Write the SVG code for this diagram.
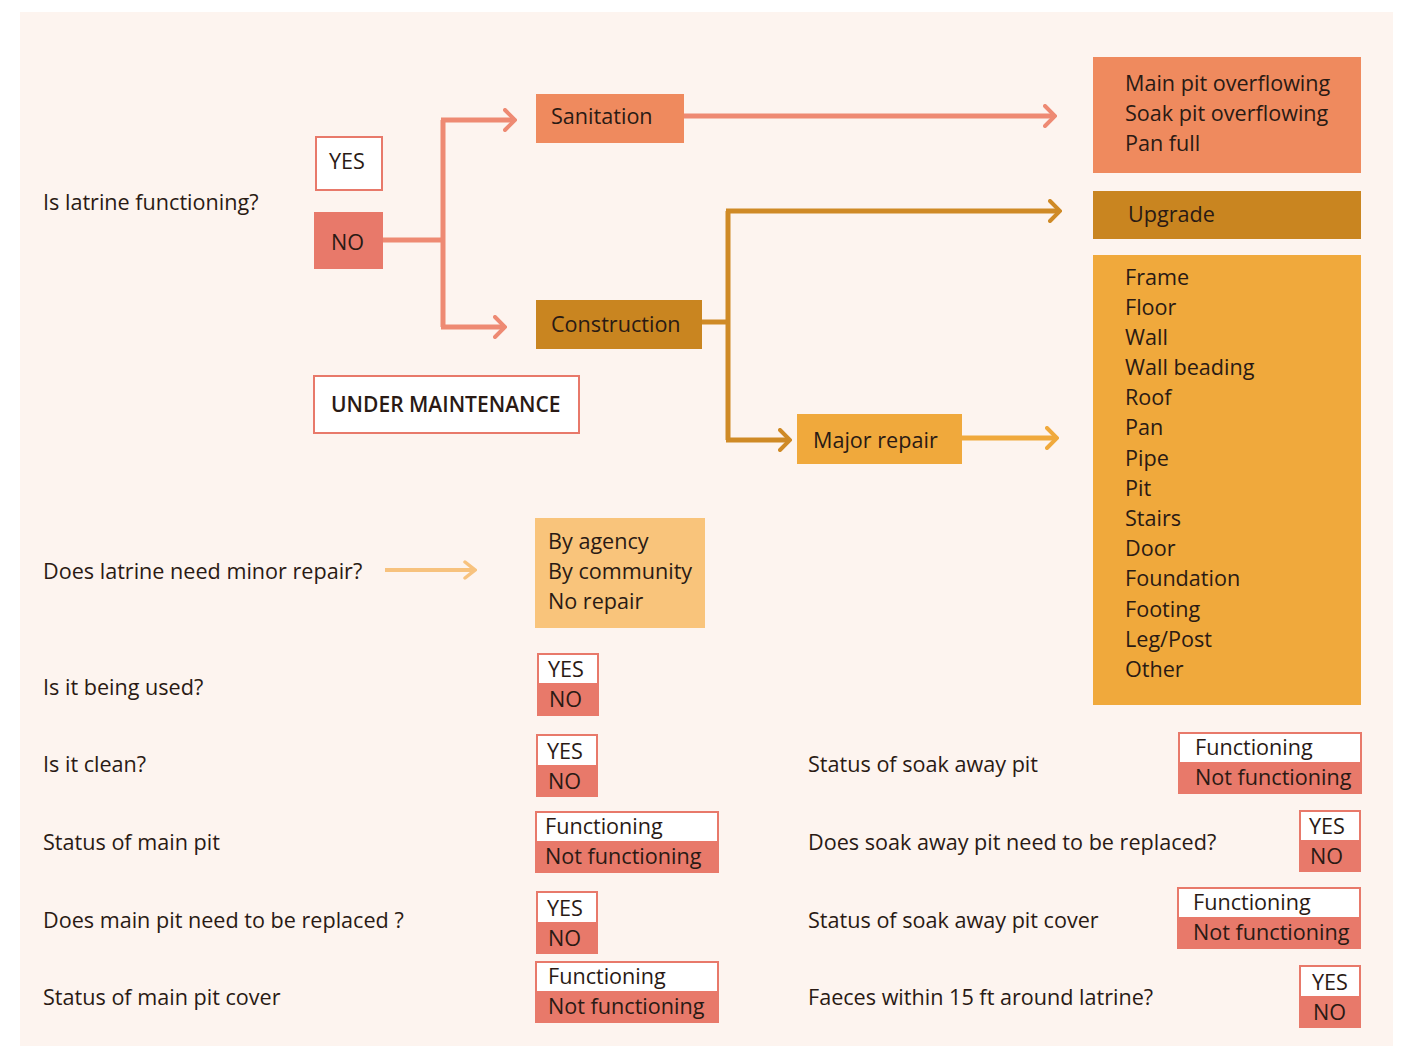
<svg xmlns="http://www.w3.org/2000/svg" width="1410" height="1046" viewBox="0 0 1410 1046">
<defs>
<style>
text{font-family:"Open Sans","Liberation Sans",sans-serif;font-size:21.6px;fill:#2a1a14}
.um{font-size:21px;font-weight:600}
.box-w{fill:#ffffff;stroke:#E8796A;stroke-width:2}
.box-n{fill:#E8796A;stroke:#E8796A;stroke-width:2}
.san{fill:#EF8A5E}
.con{fill:#C98520}
.maj{fill:#F0A93C}
.min{fill:#F9C47B}
.l-s{stroke:#EE8A73;stroke-width:5;fill:none}
.l-g{stroke:#CF8A26;stroke-width:5;fill:none}
.l-m{stroke:#F0A93C;stroke-width:5;fill:none}
.l-y{stroke:#F7C27E;stroke-width:4;fill:none}
</style>
<marker id="as" viewBox="0 0 14 24" refX="12" refY="12" markerWidth="14" markerHeight="24" markerUnits="userSpaceOnUse" orient="auto"><path d="M2,2 L12,12 L2,22" fill="none" stroke="#EE8A73" stroke-width="4" stroke-linecap="round"/></marker>
<marker id="ag" viewBox="0 0 14 24" refX="12" refY="12" markerWidth="14" markerHeight="24" markerUnits="userSpaceOnUse" orient="auto"><path d="M2,2 L12,12 L2,22" fill="none" stroke="#CF8A26" stroke-width="4" stroke-linecap="round"/></marker>
<marker id="am" viewBox="0 0 14 24" refX="12" refY="12" markerWidth="14" markerHeight="24" markerUnits="userSpaceOnUse" orient="auto"><path d="M2,2 L12,12 L2,22" fill="none" stroke="#F0A93C" stroke-width="4" stroke-linecap="round"/></marker>
<marker id="ay" viewBox="0 0 14 24" refX="12" refY="12" markerWidth="14" markerHeight="24" markerUnits="userSpaceOnUse" orient="auto"><path d="M2,4 L12,12 L2,20" fill="none" stroke="#F7C27E" stroke-width="3.5" stroke-linecap="round"/></marker>
</defs>
<rect x="0" y="0" width="1410" height="1046" fill="#ffffff"/>
<rect x="20" y="12" width="1373" height="1034" fill="#FDF4EF"/>

<g id="connectors">
<path class="l-s" d="M382,240 H443"/>
<path class="l-s" d="M443,327 V120" />
<path class="l-s" d="M441,120 H515" marker-end="url(#as)"/>
<path class="l-s" d="M441,327 H505" marker-end="url(#as)"/>
<path class="l-s" d="M684,116 H1055" marker-end="url(#as)"/>
<path class="l-g" d="M702,322 H728"/>
<path class="l-g" d="M728,211 V440"/>
<path class="l-g" d="M726,211 H1060" marker-end="url(#ag)"/>
<path class="l-g" d="M726,440 H790" marker-end="url(#ag)"/>
<path class="l-m" d="M962,438 H1057" marker-end="url(#am)"/>
<path class="l-y" d="M385,570 H475" marker-end="url(#ay)"/>
</g>

<g id="q-functioning"><text x="43" y="210">Is latrine functioning?</text></g>
<g id="yes-top"><rect class="box-w" x="316" y="137" width="66" height="53"/><text x="329" y="169">YES</text></g>
<g id="no-top"><rect class="box-n" x="315" y="213" width="67" height="55"/><text x="331" y="250">NO</text></g>

<g id="sanitation"><rect class="san" x="536" y="94" width="148" height="49"/><text x="551" y="124">Sanitation</text></g>
<g id="construction"><rect class="con" x="536" y="300" width="166" height="49"/><text x="551" y="332">Construction</text></g>
<g id="under-maintenance"><rect class="box-w" x="314" y="376" width="265" height="57"/><text class="um" x="331" y="412">UNDER MAINTENANCE</text></g>

<g id="sanitation-list"><rect class="san" x="1093" y="57" width="268" height="116"/>
<text x="1125" y="91">Main pit overflowing</text>
<text x="1125" y="121">Soak pit overflowing</text>
<text x="1125" y="151">Pan full</text></g>

<g id="upgrade"><rect class="con" x="1093" y="191" width="268" height="48"/><text x="1128" y="222">Upgrade</text></g>

<g id="repair-list"><rect class="maj" x="1093" y="255" width="268" height="450"/>
<text x="1125" y="285">Frame</text>
<text x="1125" y="315">Floor</text>
<text x="1125" y="345">Wall</text>
<text x="1125" y="375">Wall beading</text>
<text x="1125" y="405">Roof</text>
<text x="1125" y="435">Pan</text>
<text x="1125" y="466">Pipe</text>
<text x="1125" y="496">Pit</text>
<text x="1125" y="526">Stairs</text>
<text x="1125" y="556">Door</text>
<text x="1125" y="586">Foundation</text>
<text x="1125" y="617">Footing</text>
<text x="1125" y="647">Leg/Post</text>
<text x="1125" y="677">Other</text></g>

<g id="major-repair"><rect class="maj" x="797" y="414" width="165" height="50"/><text x="813" y="448">Major repair</text></g>

<g id="q-minor"><text x="43" y="579">Does latrine need minor repair?</text></g>
<g id="minor-list"><rect class="min" x="535" y="518" width="170" height="110"/>
<text x="548" y="549">By agency</text>
<text x="548" y="579">By community</text>
<text x="548" y="609">No repair</text></g>

<g id="q-used"><text x="43" y="695">Is it being used?</text>
<rect class="box-w" x="538" y="654" width="60" height="30"/><rect class="box-n" x="538" y="684" width="60" height="31"/>
<text x="548" y="677">YES</text><text x="549" y="707">NO</text></g>

<g id="q-clean"><text x="43" y="772">Is it clean?</text>
<rect class="box-w" x="537" y="735" width="60" height="31"/><rect class="box-n" x="537" y="766" width="60" height="30"/>
<text x="547" y="759">YES</text><text x="548" y="789">NO</text></g>

<g id="q-main-pit"><text x="43" y="850">Status of main pit</text>
<rect class="box-w" x="536" y="812" width="182" height="30"/><rect class="box-n" x="536" y="842" width="182" height="30"/>
<text x="545" y="834">Functioning</text><text x="545" y="864">Not functioning</text></g>

<g id="q-main-replace"><text x="43" y="928">Does main pit need to be replaced ?</text>
<rect class="box-w" x="537" y="892" width="60" height="31"/><rect class="box-n" x="537" y="923" width="60" height="30"/>
<text x="547" y="916">YES</text><text x="548" y="946">NO</text></g>

<g id="q-main-cover"><text x="43" y="1005">Status of main pit cover</text>
<rect class="box-w" x="536" y="962" width="182" height="30"/><rect class="box-n" x="536" y="992" width="182" height="30"/>
<text x="548" y="984">Functioning</text><text x="548" y="1014">Not functioning</text></g>

<g id="q-soak"><text x="808" y="772">Status of soak away pit</text>
<rect class="box-w" x="1179" y="733" width="182" height="30"/><rect class="box-n" x="1179" y="763" width="182" height="30"/>
<text x="1195" y="755">Functioning</text><text x="1195" y="785">Not functioning</text></g>

<g id="q-soak-replace"><text x="808" y="850">Does soak away pit need to be replaced?</text>
<rect class="box-w" x="1300" y="811" width="60" height="30"/><rect class="box-n" x="1300" y="841" width="60" height="30"/>
<text x="1309" y="834">YES</text><text x="1310" y="864">NO</text></g>

<g id="q-soak-cover"><text x="808" y="928">Status of soak away pit cover</text>
<rect class="box-w" x="1178" y="888" width="182" height="30"/><rect class="box-n" x="1178" y="918" width="182" height="30"/>
<text x="1193" y="910">Functioning</text><text x="1193" y="940">Not functioning</text></g>

<g id="q-faeces"><text x="808" y="1005">Faeces within 15 ft around latrine?</text>
<rect class="box-w" x="1300" y="966" width="60" height="31"/><rect class="box-n" x="1300" y="997" width="60" height="30"/>
<text x="1312" y="990">YES</text><text x="1313" y="1020">NO</text></g>
</svg>
